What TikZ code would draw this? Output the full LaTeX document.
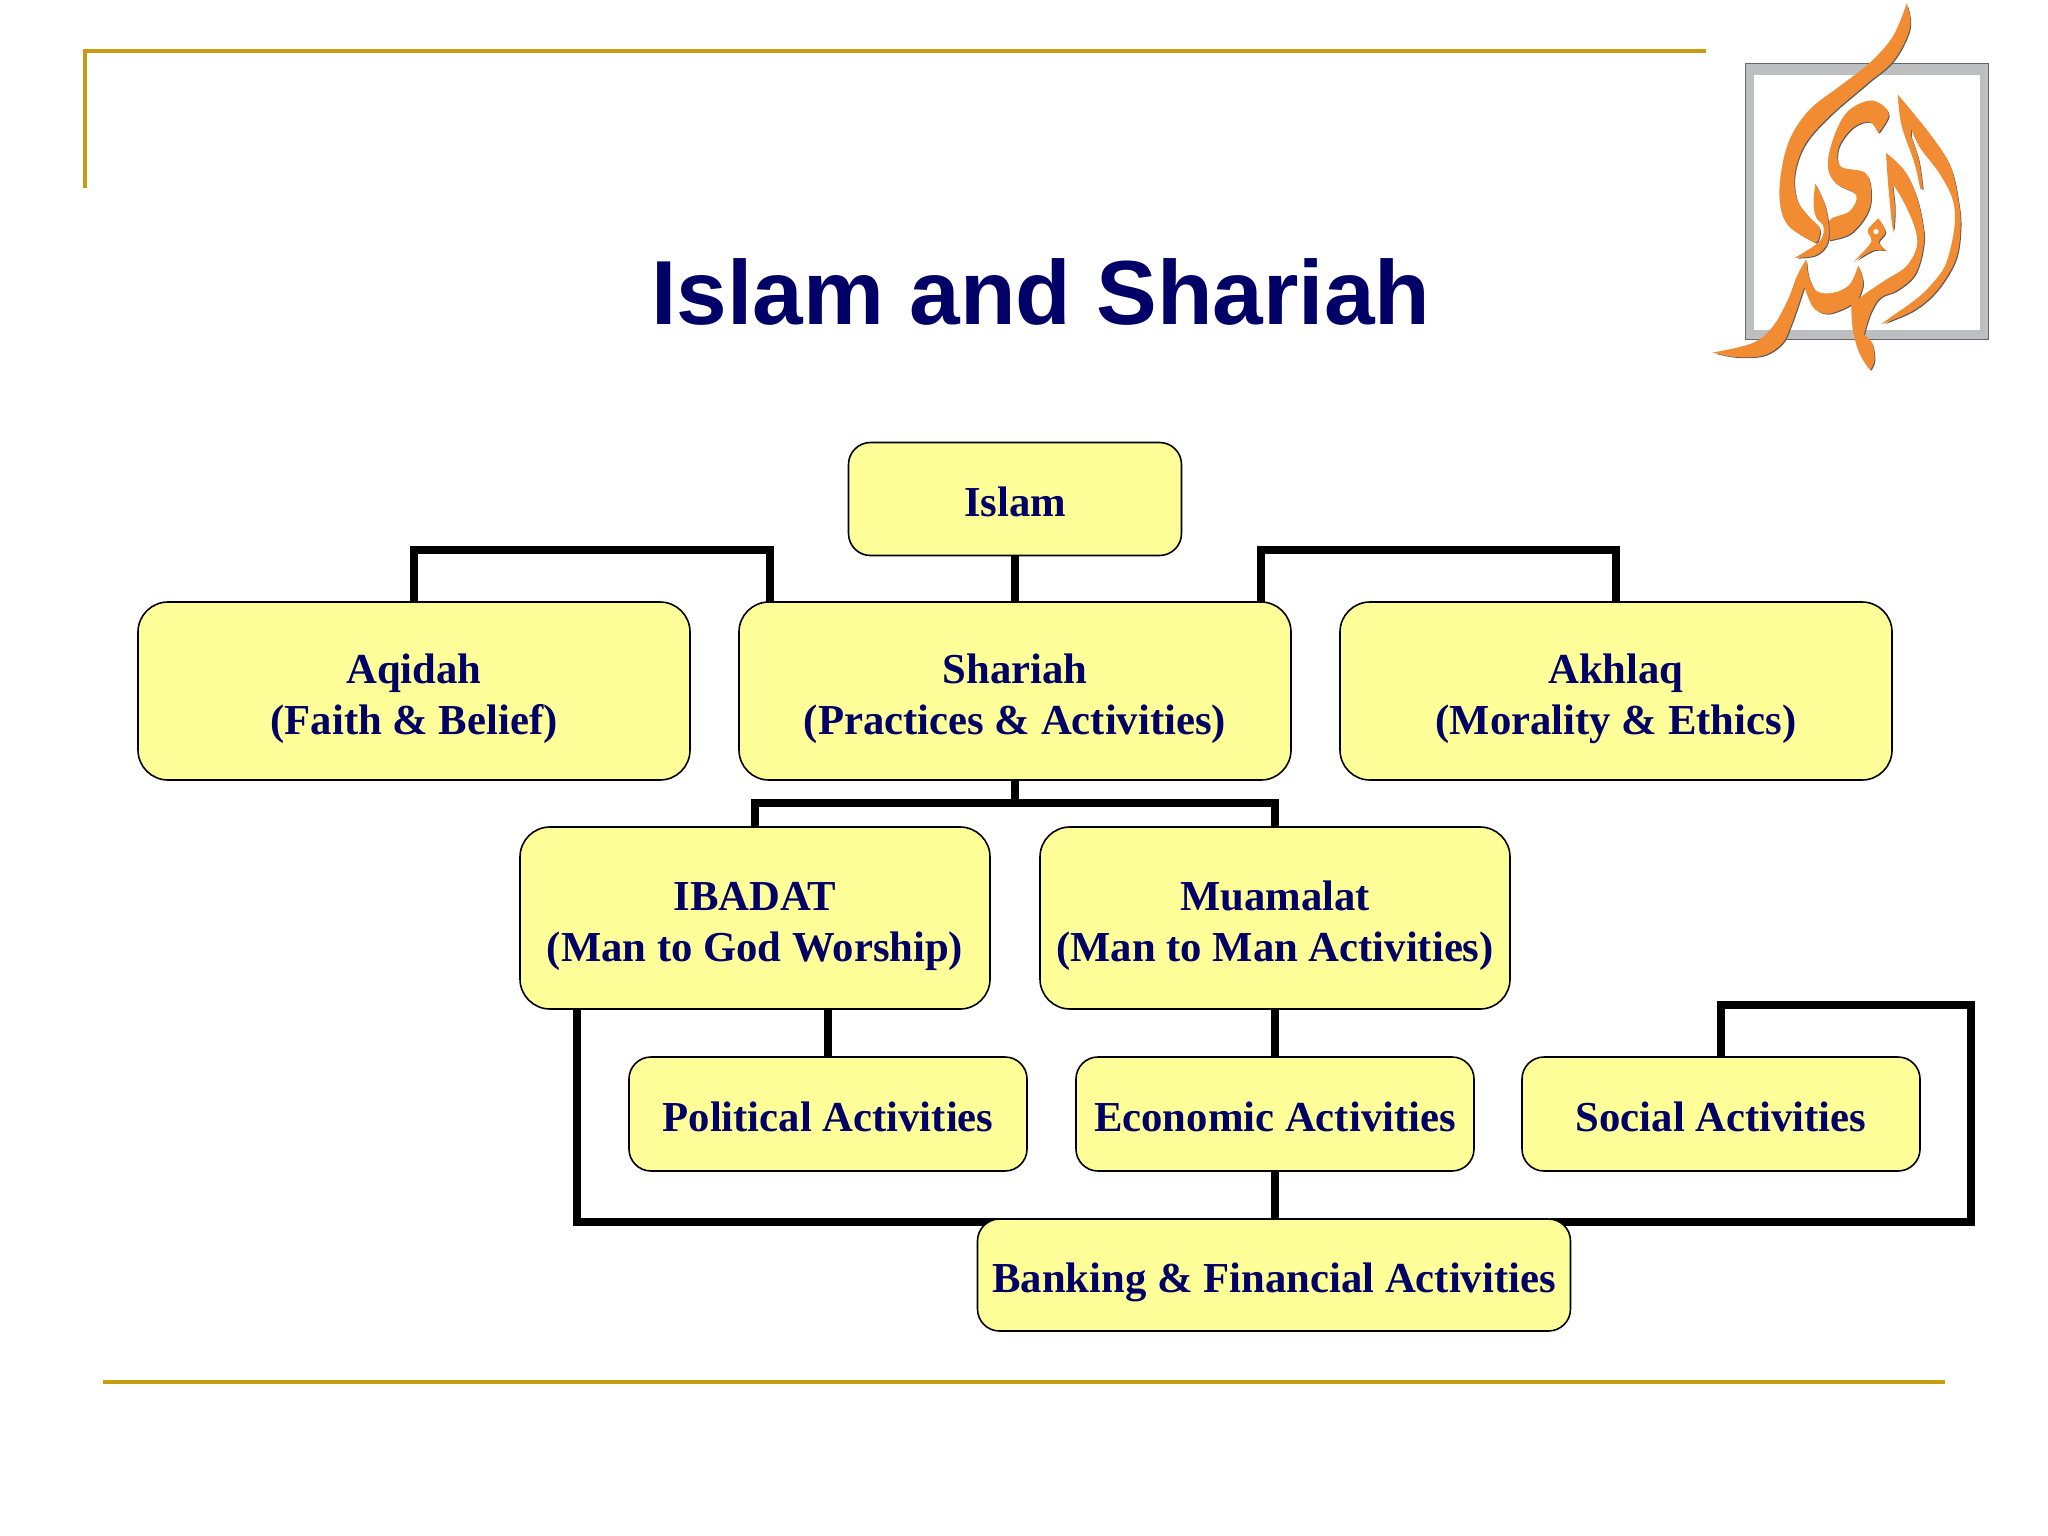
\documentclass[tikz,border=0pt]{standalone}
\usepackage{fontspec}
\setmainfont{Liberation Serif}
\newfontfamily\titlefont{Liberation Sans}
\usetikzlibrary{backgrounds}
\definecolor{navyt}{HTML}{000066}
\definecolor{boxy}{HTML}{FFFF99}
\definecolor{goldl}{HTML}{C99C12}
\definecolor{logoo}{HTML}{F28C33}
\definecolor{logog}{HTML}{BDBEC0}
\pgfdeclarelayer{paper}
\pgfsetlayers{paper,background,main}
\tikzset{
 bx/.style={draw=black,line width=1.6pt,fill=boxy,rounded corners=#1,inner sep=0pt,
   text=navyt,font=\fontsize{42.7}{50.8}\selectfont\bfseries},
 conn/.style={draw=black,line width=7.5pt,line join=miter},
 rule/.style={draw=goldl,line width=4.6pt}
}
\newcommand{\bnode}[7]{\node[bx=#2,minimum width=#5 pt,minimum height=#6 pt] (#1) at (#3,#4) {\raisebox{-14pt}[0pt][0pt]{\begin{tabular}{@{}c@{}}#7\end{tabular}}};}
\newcommand{\inkp}[1]{\fill[black!65,shift={(4,4)}] #1; \path[fill=logoo,draw=logoo,line width=1pt] #1;}
\begin{document}
\begin{tikzpicture}[x=1pt,y=-1pt]
\useasboundingbox (0,0) rectangle (2048,1536);
\begin{pgfonlayer}{paper}\fill[white] (0,0) rectangle (2048,1536);\end{pgfonlayer}
% frame rules
\coordinate (ftl) at (85,51); \coordinate (ftr) at (1706,51); \coordinate (fbl) at (85,188);
\coordinate (bl) at (103,1382); \coordinate (br) at (1945,1382);
\draw[rule] (fbl) -- (ftl) -- (ftr);
\draw[rule] (bl) -- (br);
% title
\node[text=navyt,font=\titlefont\fontsize{91}{100}\selectfont\bfseries,inner sep=0pt,anchor=base] (title) at (1041,324) {Islam and Shariah};
% logo
\fill[logog] (1745,64) rectangle (1988,339);
\draw[black!60,line width=1pt] (1745,64) rectangle (1988,339);
\fill[white] (1754,75) rectangle (1980,330);
\begin{scope}[shift={(1680,0)},x=0.3333pt,y=-0.3333pt]
\inkp{plot[smooth,tension=0.6] coordinates {(680,15) (640,110) (570,190) (480,260) (390,330) (330,420) (303,530) (303,620) (330,680) (405,727)}
  -- plot[smooth,tension=0.6] coordinates {(412,722) (418,685) (385,650) (350,600) (343,520) (375,430) (450,345) (560,250) (640,180) (688,85) (680,15)} -- cycle}
\inkp{plot[smooth,tension=0.6] coordinates {(595,397) (625,345) (600,312) (560,305) (500,340) (460,420) (445,500) (470,550) (530,585) (510,635) (450,662) (445,720)}
  -- plot[smooth,tension=0.6] coordinates {(445,720) (510,700) (560,640) (572,580) (555,520) (480,500) (475,440) (520,380) (570,365) (595,397)} -- cycle}
\inkp{plot[smooth,tension=0.6] coordinates {(407,555) (402,610) (410,652) (432,680) (420,725) (350,772)}
  -- plot[smooth,tension=0.6] coordinates {(350,772) (405,765) (438,735) (445,690) (435,620) (407,555)} -- cycle}
\inkp{plot[smooth,tension=0.6] coordinates {(655,288) (750,405) (810,500) (835,610) (840,690) (825,780) (770,870) (700,930) (612,968)}
  -- plot[smooth,tension=0.6] coordinates {(612,968) (640,948) (720,890) (780,825) (805,775) (825,680) (820,600) (780,520) (720,440) (692,378)}
  -- plot[smooth,tension=0.6] coordinates {(692,410) (715,480) (727,565)}
  -- plot[smooth,tension=0.6] coordinates {(722,565) (705,490) (670,390) (660,340) (655,288)} -- cycle}
\inkp{plot[smooth,tension=0.6] coordinates {(620,462) (670,510) (705,580) (725,660) (730,730) (705,820) (650,870) (600,892) (570,940) (550,1005)}
  -- plot[smooth,tension=0.6] coordinates {(550,1005) (575,1030) (582,1080) (570,1108)}
  -- plot[smooth,tension=0.6] coordinates {(570,1108) (540,1060) (520,990) (515,910)}
  -- plot[smooth,tension=0.6] coordinates {(515,910) (490,925) (440,940) (400,920) (373,855)}
  -- plot[smooth,tension=0.6] coordinates {(373,855) (355,910) (330,980) (305,1030) (250,1065) (170,1070) (105,1058)}
  -- plot[smooth,tension=0.6] coordinates {(105,1058) (220,1030) (280,980) (325,900) (352,830) (378,782)}
  -- plot[smooth,tension=0.6] coordinates {(378,782) (385,830) (410,875) (460,880) (510,855) (535,800)}
  -- plot[smooth,tension=0.6] coordinates {(535,800) (548,850) (530,905)}
  -- plot[smooth,tension=0.6] coordinates {(530,905) (560,880) (620,840) (680,800) (712,740) (705,680) (670,600) (635,545)}
  -- plot[smooth,tension=0.6] coordinates {(635,545) (643,620) (640,688)}
  -- plot[smooth,tension=0.6] coordinates {(640,688) (635,650) (625,540) (620,462)} -- cycle}
\inkp{plot[smooth,tension=0.6] coordinates {(595,658) (615,695) (595,725) (615,750)}
  -- plot[smooth,tension=0.6] coordinates {(615,750) (580,750) (530,778)}
  -- plot[smooth,tension=0.6] coordinates {(530,778) (570,735) (575,715) (565,690) (595,658)} -- cycle}
\fill[white] (588,695) circle[radius=8];
\end{scope}
% boxes
\bnode{islam}{22pt}{1015}{499}{333}{113}{Islam}
\bnode{aqidah}{30pt}{414}{691}{552}{178}{Aqidah\\(Faith \& Belief)}
\bnode{shariah}{30pt}{1015}{691}{552}{178}{Shariah\\(Practices \& Activities)}
\bnode{akhlaq}{30pt}{1616}{691}{552}{178}{Akhlaq\\(Morality \& Ethics)}
\bnode{ibadat}{30pt}{755}{918}{470}{182}{IBADAT\\(Man to God Worship)}
\bnode{muamalat}{30pt}{1275}{918}{470}{182}{Muamalat\\(Man to Man Activities)}
\bnode{political}{22pt}{828}{1114}{398}{114}{Political Activities}
\bnode{economic}{22pt}{1275}{1114}{398}{114}{Economic Activities}
\bnode{social}{22pt}{1721}{1114}{398}{114}{Social Activities}
\bnode{banking}{22pt}{1274}{1275}{593}{112}{Banking \& Financial Activities}
% connector helpers
\coordinate (aqtop) at (414,550);
\coordinate (shl) at (770,602);
\coordinate (shr) at (1261,602);
\coordinate (aktop) at (1616,550);
\coordinate (midbus) at (1015,803);
\coordinate (ibl) at (577,1008);
\coordinate (busl) at (577,1222);
\coordinate (polc) at (828,1008);
\coordinate (bankl) at (1000,1222);
\coordinate (bankr) at (1550,1222);
\coordinate (soctop) at (1721,1005);
\coordinate (busr) at (1971,1222);
\begin{pgfonlayer}{background}
\draw[conn] (aqidah.north) |- (aqtop) -| (shl);
\draw[conn] (shr) |- (aktop) -| (akhlaq.north);
\draw[conn] (islam.south) -- (shariah.north);
\draw[conn] (shariah.south) -- (midbus);
\draw[conn] (ibadat.north) |- (midbus) -| (muamalat.north);
\draw[conn] (political.north) -- (polc);
\draw[conn] (muamalat.south) -- (economic.north);
\draw[conn] (economic.south) -- (banking.north -| economic.south);
\draw[conn] (ibl) -- (busl) -- (bankl);
\draw[conn] (social.north) -- (soctop) -| (busr) -- (bankr);
\end{pgfonlayer}
\end{tikzpicture}
\end{document}
